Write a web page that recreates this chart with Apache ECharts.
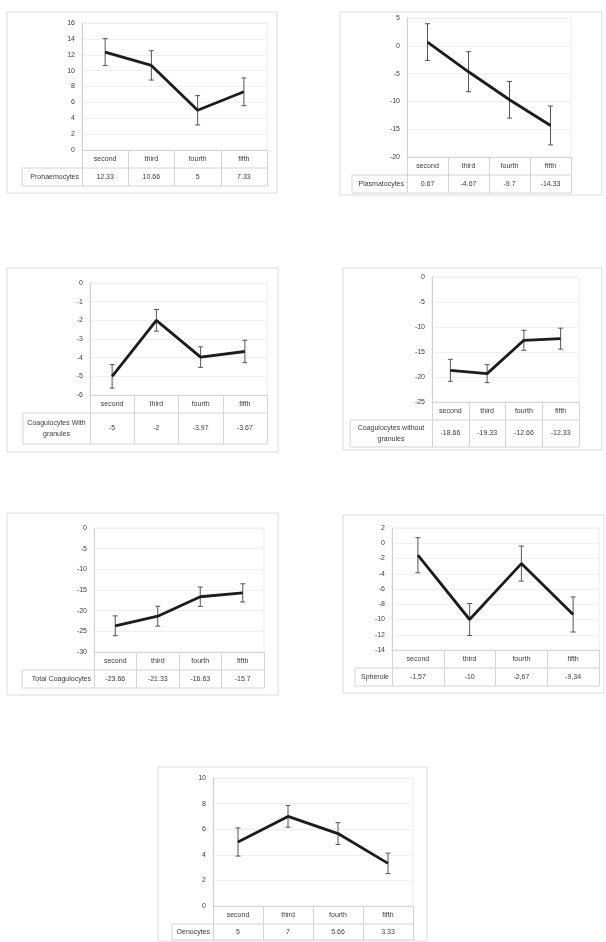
<!DOCTYPE html>
<html>
<head>
<meta charset="utf-8">
<script src="https://cdn.jsdelivr.net/npm/echarts@6/dist/echarts.min.js"></script>
<style>
  html, body { margin: 0; padding: 0; background: #ffffff; }
  #chart { width: 606px; height: 942px; }
</style>
</head>
<body>
<div id="chart"></div>
<script>
// Haemocyte counts by instar stage, with standard error bars
const categories = ['second', 'third', 'fourth', 'fifth'];

const prohaemocytes = [12.33, 10.66, 5, 7.33];
const prohaemocytesErr = [1.7, 1.85, 1.85, 1.75];

const plasmatocytes = [0.67, -4.67, -9.7, -14.33];
const plasmatocytesErr = [3.3, 3.6, 3.3, 3.5];

const coagWithGranules = [-5, -2, -3.97, -3.67];
const coagWithGranulesErr = [0.63, 0.58, 0.55, 0.6];

const coagWithoutGranules = [-18.66, -19.33, -12.66, -12.33];
const coagWithoutGranulesErr = [2.2, 1.8, 2.0, 2.1];

const totalCoagulocytes = [-23.66, -21.33, -16.63, -15.7];
const totalCoagulocytesErr = [2.4, 2.4, 2.35, 2.2];

const spherule = [-1.57, -10, -2.67, -9.34];
const spheruleErr = [2.3, 2.1, 2.3, 2.3];

const oenocytes = [5, 7, 5.66, 3.33];
const oenocytesErr = [1.1, 0.85, 0.85, 0.8];

const dot = v => String(v);
const comma = v => String(v).replace('.', ',');

// Panel layout: plot box [left, top, width, height], outer frame, data-table geometry
const panels = [
  { label: ['Prohaemocytes'], values: prohaemocytes, errs: prohaemocytesErr, min: 0, max: 16, step: 2,
    box: [82, 23, 185, 127], frame: [7, 12, 270, 181], tableLeft: 22, rowsH: 36, fmt: dot },
  { label: ['Plasmatocytes'], values: plasmatocytes, errs: plasmatocytesErr, min: -20, max: 5, step: 5,
    box: [407, 18, 164, 139], frame: [340, 12, 262, 183], tableLeft: 352, rowsH: 36, fmt: dot },
  { label: ['Coagulocytes With', 'granules'], values: coagWithGranules, errs: coagWithGranulesErr, min: -6, max: 0, step: 1,
    box: [90, 283, 177, 112], frame: [7, 268, 271, 184], tableLeft: 23, rowsH: 49, fmt: dot },
  { label: ['Coagulocytes without', 'granules'], values: coagWithoutGranules, errs: coagWithoutGranulesErr, min: -25, max: 0, step: 5,
    box: [432, 277, 147, 125], frame: [343, 268, 259, 182], tableLeft: 350, rowsH: 45, fmt: dot },
  { label: ['Total Coagulocytes'], values: totalCoagulocytes, errs: totalCoagulocytesErr, min: -30, max: 0, step: 5,
    box: [94, 528, 170, 124], frame: [7, 513, 271, 182], tableLeft: 22, rowsH: 36, fmt: dot },
  { label: ['Spherule'], values: spherule, errs: spheruleErr, min: -14, max: 2, step: 2,
    box: [392, 528, 207, 122], frame: [343, 515, 261, 178], tableLeft: 355, rowsH: 36, fmt: comma },
  { label: ['Oenocytes'], values: oenocytes, errs: oenocytesErr, min: 0, max: 10, step: 2,
    box: [213, 778, 200, 128], frame: [158, 767, 269, 174], tableLeft: 172, rowsH: 34, fmt: dot }
];

const FONT = 'Liberation Sans';
const TEXT = '#3a3a3a';
const RULE = '#d4d4d4';

const grids = [], xAxes = [], yAxes = [], series = [], graphics = [];

panels.forEach((p, i) => {
  const [gl, gt, gw, gh] = p.box;
  const bottom = gt + gh;
  const right = gl + gw;
  const row1 = 18;
  const row2Center = row1 + (p.rowsH - row1) / 2;

  grids.push({ left: gl, top: gt, width: gw, height: gh, containLabel: false, outerBoundsMode: 'none',
    show: true, borderColor: '#ececec', borderWidth: 1, backgroundColor: 'transparent' });

  // category row of the data table
  xAxes.push({
    type: 'category', gridIndex: i, data: categories, position: 'bottom', boundaryGap: true,
    axisLine: { show: true, onZero: false, lineStyle: { color: RULE, width: 1 } },
    axisTick: { show: true, interval: 0, length: p.rowsH, lineStyle: { color: RULE } },
    axisLabel: { interval: 0, margin: 5.5, fontSize: 7, fontFamily: FONT, color: TEXT },
    splitLine: { show: false }
  });
  // value row of the data table
  xAxes.push({
    type: 'category', gridIndex: i, data: p.values.map(p.fmt), position: 'bottom', offset: row1,
    boundaryGap: true,
    axisLine: { show: false, onZero: false }, axisTick: { show: false },
    axisLabel: { interval: 0, margin: row2Center - row1 - 3.5, fontSize: 7, fontFamily: FONT, color: TEXT }
  });

  yAxes.push({
    type: 'value', gridIndex: i, min: p.min, max: p.max, interval: p.step,
    axisLine: { show: true, onZero: false, lineStyle: { color: '#d0d0d0' } },
    axisTick: { show: false },
    axisLabel: { margin: 7, fontSize: 7, fontFamily: FONT, color: TEXT },
    splitLine: { show: true, lineStyle: { color: '#efefef', width: 1 } }
  });

  // error bars
  series.push({
    type: 'custom', xAxisIndex: 2 * i, yAxisIndex: i, z: 2,
    data: p.values.map((v, k) => [k, v, p.errs[k]]),
    encode: { x: 0, y: 1 },
    renderItem: (params, api) => {
      const k = api.value(0), v = api.value(1), e = api.value(2);
      const hi = api.coord([k, v + e]);
      const lo = api.coord([k, v - e]);
      const cap = 2.5;
      const st = { stroke: '#555', lineWidth: 1 };
      return {
        type: 'group',
        children: [
          { type: 'line', shape: { x1: hi[0], y1: hi[1], x2: lo[0], y2: lo[1] }, style: st },
          { type: 'line', shape: { x1: hi[0] - cap, y1: hi[1], x2: hi[0] + cap, y2: hi[1] }, style: st },
          { type: 'line', shape: { x1: lo[0] - cap, y1: lo[1], x2: lo[0] + cap, y2: lo[1] }, style: st }
        ]
      };
    }
  });

  // mean line
  series.push({
    type: 'line', xAxisIndex: 2 * i, yAxisIndex: i, z: 3,
    data: p.values, symbol: 'none', smooth: false,
    lineStyle: { color: '#1c1c1c', width: 2.8 }
  });

  // outer frame and data-table rules
  const [fx, fy, fw, fh] = p.frame;
  graphics.push({ type: 'rect', shape: { x: fx, y: fy, width: fw, height: fh },
    style: { fill: 'none', stroke: '#dcdcdc', lineWidth: 1 }, silent: true });
  graphics.push({ type: 'line', shape: { x1: p.tableLeft, y1: bottom + row1, x2: right, y2: bottom + row1 },
    style: { stroke: RULE, lineWidth: 1 }, silent: true });
  graphics.push({ type: 'line', shape: { x1: p.tableLeft, y1: bottom + p.rowsH, x2: right, y2: bottom + p.rowsH },
    style: { stroke: RULE, lineWidth: 1 }, silent: true });
  graphics.push({ type: 'line', shape: { x1: p.tableLeft, y1: bottom + row1, x2: p.tableLeft, y2: bottom + p.rowsH },
    style: { stroke: RULE, lineWidth: 1 }, silent: true });

  // row label of the data table
  const twoLine = p.label.length > 1;
  graphics.push({
    type: 'text', silent: true,
    x: twoLine ? (p.tableLeft + gl) / 2 : gl - 3,
    y: bottom + row2Center,
    style: {
      text: p.label.join('\n'), fontSize: 7, fontFamily: FONT, fill: TEXT,
      align: twoLine ? 'center' : 'right', verticalAlign: 'middle', lineHeight: 11
    }
  });
});

const chart = echarts.init(document.getElementById('chart'), null, { renderer: 'canvas' });
chart.setOption({
  animation: false,
  backgroundColor: '#ffffff',
  grid: grids,
  xAxis: xAxes,
  yAxis: yAxes,
  series: series,
  graphic: graphics
});
</script>
</body>
</html>
